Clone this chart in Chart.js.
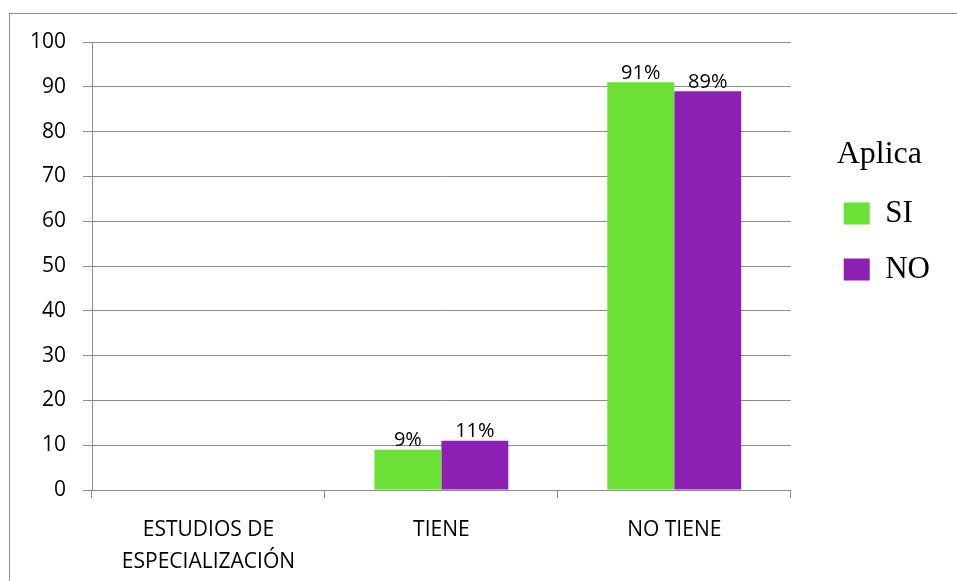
<!DOCTYPE html>
<html>
<head>
<meta charset="utf-8">
<script src="https://cdn.jsdelivr.net/npm/chart.js@4/dist/chart.umd.min.js"></script>
<style>
  html, body { margin: 0; padding: 0; background: #fff; }
  #wrap { position: relative; width: 957px; height: 581px; }
  #frame { position: absolute; left: 9px; top: 13px; width: 960px; height: 600px;
           border-left: 1px solid #8c8c8c; border-top: 1px solid #8c8c8c; }
  canvas { position: absolute; left: 0; top: 0; }
</style>
</head>
<body>
<div id="wrap">
  <div id="frame"></div>
  <canvas id="chart" width="957" height="581"></canvas>
</div>
<script>
// data
const categories = [['ESTUDIOS DE', 'ESPECIALIZACIÓN'], 'TIENE', 'NO TIENE'];
const siValues = [null, 9, 91];
const noValues = [null, 11, 89];
const yTicks = [0, 10, 20, 30, 40, 50, 60, 70, 80, 90, 100];

const sansFont = '"Open Sans", Lato, sans-serif';
const serifFont = '"Liberation Serif", "DejaVu Serif", serif';

// labels above each bar
const barLabels = {
  id: 'barLabels',
  afterDatasetsDraw(chart) {
    const ctx = chart.ctx;
    ctx.save();
    ctx.font = '20px ' + sansFont;
    ctx.fillStyle = '#000';
    ctx.textAlign = 'center';
    ctx.textBaseline = 'bottom';
    chart.data.datasets.forEach((ds, i) => {
      chart.getDatasetMeta(i).data.forEach((bar, j) => {
        const v = ds.data[j];
        if (v == null) return;
        ctx.fillText(v + '%', bar.x, bar.y + 1);
      });
    });
    ctx.restore();
  }
};

new Chart(document.getElementById('chart').getContext('2d'), {
  type: 'bar',
  data: {
    labels: categories,
    datasets: [{
      label: 'SI',
      data: siValues,
      backgroundColor: '#6ae134',
      borderWidth: 0
    }, {
      label: 'NO',
      data: noValues,
      backgroundColor: '#8e1fb4',
      borderWidth: 0
    }]
  },
  options: {
    responsive: false,
    animation: false,
    layout: { padding: { left: 0, top: 42, right: 17, bottom: 0 } },
    categoryPercentage: 0.575,
    barPercentage: 1,
    plugins: {
      legend: {
        position: 'right',
        align: 'start',
        title: {
          display: true, text: 'Aplica', color: '#000', position: 'center',
          font: { family: serifFont, size: 32, lineHeight: 1 }, padding: { top: 97, bottom: 2 }
        },
        labels: {
          color: '#000',
          font: { family: serifFont, size: 31 },
          boxWidth: 26,
          boxHeight: 22,
          padding: 25
        }
      },
      tooltip: { enabled: false }
    },
    scales: {
      x: {
        grid: { drawOnChartArea: false, drawTicks: true, tickLength: 8, color: '#8c8c8c' },
        border: { color: '#8c8c8c' },
        ticks: { color: '#000', font: { family: sansFont, size: 21, lineHeight: 1.52 }, padding: 16, maxRotation: 0 },
        afterFit(axis) { axis.height = 91; }
      },
      y: {
        min: 0,
        max: 100,
        afterBuildTicks(axis) { axis.ticks = yTicks.map(v => ({ value: v })); },
        grid: { color: '#8c8c8c', tickLength: 9 },
        border: { color: '#8c8c8c' },
        ticks: { color: '#000', font: { family: sansFont, size: 21 }, padding: 17 },
        afterFit(axis) { axis.width = 92; }
      },
      // empty gap between the plot and the legend
      gap: {
        position: 'right',
        grid: { display: false },
        border: { display: false },
        ticks: { display: false },
        afterFit(axis) { axis.width = 28; }
      }
    }
  },
  plugins: [barLabels]
});
</script>
</body>
</html>
